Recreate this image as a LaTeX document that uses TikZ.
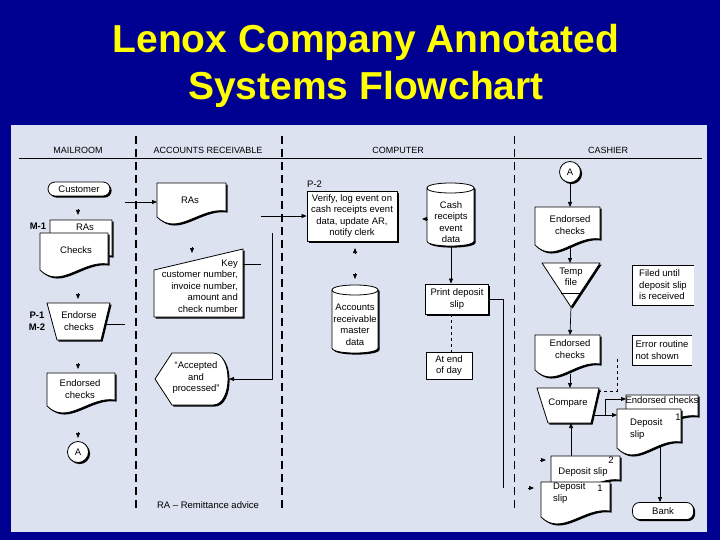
\documentclass[tikz,border=0pt]{standalone}
\usepackage{fontspec}
\setmainfont{Liberation Sans}
\usetikzlibrary{arrows.meta,shadows}

\definecolor{slideblue}{RGB}{0,0,145}
\definecolor{panelgray}{RGB}{221,226,241}
\definecolor{titleyellow}{RGB}{255,255,0}

% document symbol: left x, top y, right x, bottom of left side
\newcommand{\docsym}[4]{%
  \path[shadowed] (#1,#2) -- (#3,#2) -- (#3,#4-6)
    .. controls ({#1+0.62*(#3-#1)},#4-10) and ({#1+0.3*(#3-#1)},#4+20) .. (#1,#4) -- cycle;}
% disk symbol: left x, top y, right x, bottom y
\newcommand{\cylsym}[4]{%
  \path[shadowed] (#1,#2+5) -- (#1,#4-5)
    .. controls (#1,#4+1.67) and (#3,#4+1.67) .. (#3,#4-5)
    -- (#3,#2+5) .. controls (#3,#2-1.67) and (#1,#2-1.67) .. (#1,#2+5) -- cycle;
  \draw[line width=0.8pt] (#1,#2+5) .. controls (#1,#2+11.67) and (#3,#2+11.67) .. (#3,#2+5);}

\begin{document}
\begin{tikzpicture}[x=1pt, y=-1pt, line join=round,
  every node/.style={font=\fontsize{9.5}{11.5}\selectfont, inner sep=0pt, align=center},
  shadowed/.style={draw, line width=0.8pt, fill=white,
    drop shadow={shadow xshift=1.6pt, shadow yshift=-1.6pt, opacity=1, fill=black}},
  terminal/.style={shadowed, rounded corners=7pt, minimum width=62pt, minimum height=14pt},
  procbox/.style={shadowed, minimum width=90pt, minimum height=50pt},
  notebox/.style={draw, line width=0.6pt, fill=white, minimum width=60pt, minimum height=30pt},
  connector/.style={shadowed, circle, minimum size=21pt},
  lanehead/.style={font=\fontsize{9}{10}\selectfont},
  code/.style={font=\fontsize{9.5}{12}\bfseries\selectfont},
  lanedash/.style={line width=1.6pt, dash pattern=on 8pt off 5pt},
  flow/.style={line width=0.7pt, -{Triangle[length=5pt,width=4pt]}},
  title/.style={font=\fontsize{39}{47}\bfseries\selectfont, text=titleyellow, anchor=base}]

\useasboundingbox (0,0) rectangle (720,540);
\fill[slideblue] (0,0) rectangle (720,540);
\node[title] (title1) at (366,53) {Lenox Company Annotated};
\node[title] (title2) at (366,100) {Systems Flowchart};

% panel and swim lanes
\fill[panelgray] (11,125) rectangle (707,532);
\draw[line width=0.8pt] (19,158) -- (702,158);
\draw[lanedash] (136,136) -- (136,510);
\draw[lanedash] (282,136) -- (282,510);
\draw[lanedash, line width=0.7pt] (514,136) -- (514,510);
\node[lanehead] (mailhd) at (78,150) {MAILROOM};
\node[lanehead] (arhd) at (208,150) {ACCOUNTS RECEIVABLE};
\node[lanehead] (comphd) at (398,150) {COMPUTER};
\node[lanehead] (cashhd) at (608,150) {CASHIER};

% mailroom
\node[terminal] (cust) at (79,189) {Customer};
\draw[flow] (78,209) -- (78,215);
\docsym{50}{220}{112}{262}
\docsym{40}{233}{108}{270}
\node (rasm) at (85,227) {RAs};
\node (chkm) at (76,250) {Checks};
\node[code] (m1) at (38,226) {M-1};
\coordinate (rasin) at (125,202);
\draw[flow] (78,293) -- (78,299);
\path[shadowed] (47,303) -- (110,303) -- (101,340) -- (57,340) -- cycle;
\node (endm) at (79,321) {Endorse\\checks};
\node[code] (p1) at (37,321) {P-1\\M-2};
\draw[line width=0.7pt] (105,324) -- (125,324);
\draw[flow] (78,363) -- (78,369);
\docsym{47}{373}{115}{406}
\node (endcm) at (80,389) {Endorsed\\checks};
\draw[flow] (78,432) -- (78,438);
\node[connector] (am) at (78,452) {A};

% accounts receivable
\docsym{157}{183}{226}{217}
\node (rasa) at (190,200) {RAs};
\draw[flow] (rasin) -- (157,202);
\draw[flow] (192,247) -- (192,253);
\path[shadowed] (154,270) -- (243,249) -- (243,317) -- (154,317) -- cycle;
\node[align=right, anchor=east] (keyt) at (238,286) {Key\\customer number,\\invoice number,\\amount and\\check number};
\draw[line width=0.7pt] (243,264) -- (261,264);
\path[shadowed] (155,379) -- (172,353) -- (213,353) .. controls (233,353) and (233,405) .. (213,405) -- (172,405) -- cycle;
\node (disp) at (196,378) {“Accepted\\and\\processed”};
\coordinate (dispin) at (229,379);
\draw[flow] (272,233) -- (272,379) -- (dispin);
\node (ranote) at (208,505) {RA – Remittance advice};

% computer
\node[code, font=\fontsize{9.5}{12}\selectfont, anchor=west] (p2) at (307,184) {P-2};
\node[procbox] (ver) at (352,216) {Verify, log event on\\cash receipts event\\data, update AR,\\notify clerk};
\draw[flow] (261,216) -- (ver.west);
\draw[flow] (355,254) -- (355,248);
\draw[flow] (355,273) -- (355,279);
\cylsym{332}{285}{378}{353}
\node (armd) at (355,325) {Accounts\\receivable\\master\\data};
\cylsym{427}{183}{474}{246}
\node (crd) at (451,222) {Cash\\receipts\\event\\data};
\coordinate (crdbot) at (451,246);
\draw[flow] (428,219) -- (422,219);
\node[procbox, minimum width=63pt, minimum height=30pt] (prt) at (457,299) {Print deposit\\slip};
\draw[flow] (crdbot) -- (prt.north -| crdbot);
\draw[line width=0.7pt] (prt.east) -| (503,488);
\node[notebox, minimum width=46pt, minimum height=27pt] (endday) at (449,365.5) {At end\\of day};
\draw[dashed, line width=0.7pt] (prt.south -| crdbot) -- (endday.north -| crdbot);

% cashier
\node[connector] (ac) at (570,172) {A};
\draw[flow] (ac) -- (570,207);
\docsym{535}{207}{600}{245}
\node (endc1) at (570,225) {Endorsed\\checks};
\draw[flow] (570,248) -- (570,263);
\path[shadowed] (542,263) -- (600,263) -- (571,307) -- cycle;
\draw[line width=0.8pt] (561,293) -- (580,293);
\node (tmpf) at (571,277) {Temp\\file};
\node[fill=white, minimum width=62pt, minimum height=40pt, align=left] (filed) at (663,285) {Filed until\\deposit slip\\is received};
\draw[line width=0.6pt] (filed.north east) -- (filed.north west) -- (filed.south west) -- (filed.south east);
\draw[flow] (571,307) -- (570,335);
\docsym{535}{335}{600}{370}
\node (endc2) at (570,349) {Endorsed\\checks};
\node[fill=white, minimum width=60pt, minimum height=30pt, align=left] (err) at (662,350) {Error routine\\not shown};
\draw[line width=0.6pt] (err.north east) -- (err.north west) -- (err.south west) -- (err.south east);
\draw[dashed, line width=0.7pt] (617,359) -- (617,391) -- (600,391);
\draw[flow] (570,374) -- (570,388);
\path[shadowed] (537,388) -- (599,388) -- (591,423) -- (548,423) -- cycle;
\node (cmp) at (568,403) {Compare};
\docsym{626}{395}{698}{422}
\node (endc3) at (662,400) {Endorsed checks};
\docsym{617}{409}{681}{448}
\node[anchor=west, align=left] (dsr) at (630,429) {Deposit\\slip};
\node (dsr1) at (678,417) {1};
\draw[flow] (593,415) -- (617,415);
\draw[flow] (605,415) |- (626,399);
\node[terminal, minimum width=61pt, minimum height=17pt] (bank) at (663,511) {Bank};
\coordinate (dsrbot) at (660,446);
\draw[flow] (dsrbot) -- (bank.north -| dsrbot);
\docsym{551}{456}{620}{486}
\node (ds2) at (583,472) {Deposit slip};
\node (ds2n) at (611,460) {2};
\docsym{541}{482}{610}{517}
\node[anchor=west, align=left] (ds1) at (553,493) {Deposit\\slip};
\node (ds1n) at (600,488) {1};
\draw[flow] (571,456) -- (571,423);
\draw[flow] (540,460) -- (546,460);
\draw[flow] (528,488) -- (534,488);
\end{tikzpicture}
\end{document}
